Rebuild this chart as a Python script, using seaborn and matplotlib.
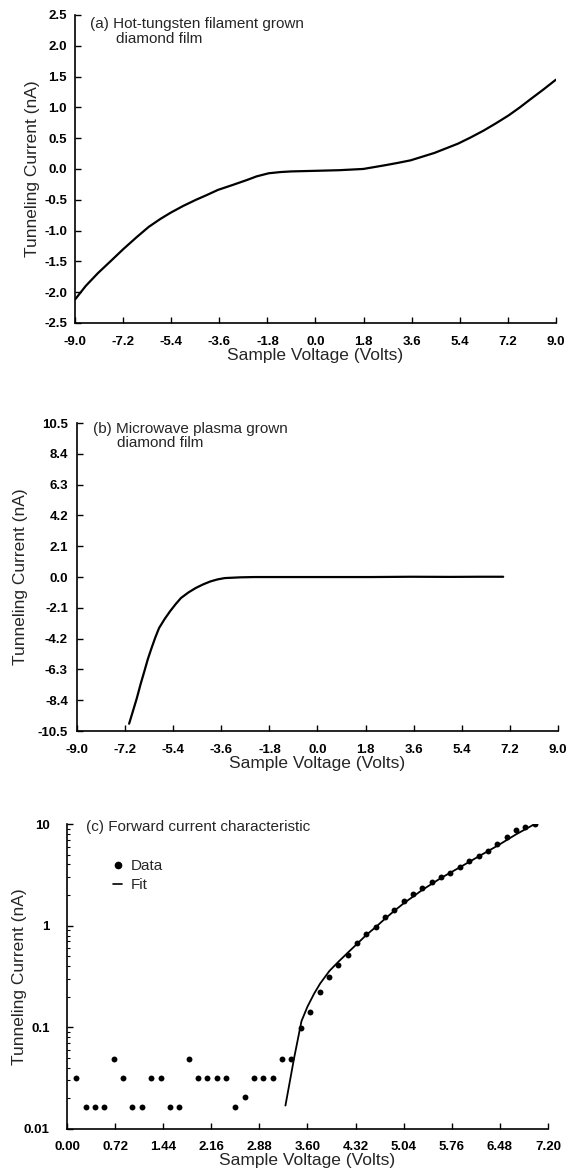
import numpy as np
import pandas as pd
import matplotlib
matplotlib.use("Agg")
import matplotlib.pyplot as plt
from matplotlib.lines import Line2D
import seaborn as sns

# ---- Panel (a) data: Hot-tungsten filament grown diamond film ----
a_voltage = [-9.0, -8.6, -8.14, -7.65, -7.19, -6.7, -6.24, -5.8, -5.42, -4.95, -4.47, -4.05, -3.65,
             -3.1, -2.57, -2.2, -1.75, -1.3, -0.9, 0.02, 0.9, 1.79, 2.6, 3.1, 3.56, 4.45,
             5.33, 5.8, 6.28, 6.75, 7.23, 7.65, 8.04, 8.5, 9.0]
a_current = [-2.12, -1.90, -1.69, -1.49, -1.30, -1.11, -0.94, -0.81, -0.71, -0.60, -0.50, -0.42, -0.34,
             -0.26, -0.18, -0.12, -0.07, -0.05, -0.04, -0.03, -0.02, 0.0, 0.06, 0.10, 0.14, 0.26,
             0.41, 0.51, 0.62, 0.74, 0.87, 1.0, 1.13, 1.28, 1.45]

# ---- Panel (b) data: Microwave plasma grown diamond film ----
b_voltage = [-7.05, -6.9, -6.76, -6.62, -6.48, -6.35, -6.21, -6.07, -5.93, -5.72, -5.52, -5.31, -5.11,
             -4.83, -4.56, -4.28, -4.01, -3.74, -3.47, -2.9, -2.37, -1.0, 0.5, 2.0, 3.5, 5.0, 6.0, 6.95]
b_current = [-10.0, -9.1, -8.25, -7.3, -6.43, -5.6, -4.84, -4.12, -3.48, -2.86, -2.34, -1.85, -1.43,
             -1.05, -0.75, -0.50, -0.30, -0.16, -0.07, -0.02, 0.0, 0.0, 0.0, 0.0, 0.02, 0.01, 0.02, 0.02]

# ---- Panel (c) data: Forward current characteristic ----
c_voltage = [0.14, 0.28, 0.42, 0.56, 0.70, 0.84, 0.98, 1.12, 1.26, 1.40,
             1.54, 1.68, 1.82, 1.96, 2.10, 2.24, 2.38, 2.52, 2.66, 2.80,
             2.94, 3.08, 3.22, 3.36, 3.50, 3.64, 3.78, 3.92, 4.06, 4.20,
             4.34, 4.48, 4.62, 4.76, 4.90, 5.04, 5.18, 5.32, 5.46, 5.60,
             5.74, 5.88, 6.02, 6.16, 6.30, 6.44, 6.58, 6.72, 6.86, 7.00]
c_current = [0.032, 0.0163, 0.0163, 0.0163, 0.049, 0.032, 0.0163, 0.0163, 0.032, 0.032,
             0.0163, 0.0163, 0.049, 0.032, 0.032, 0.032, 0.032, 0.0163, 0.0205, 0.032,
             0.032, 0.032, 0.049, 0.049, 0.098, 0.14, 0.224, 0.31, 0.41, 0.51,
             0.67, 0.83, 0.98, 1.23, 1.43, 1.73, 2.05, 2.34, 2.69, 2.99,
             3.29, 3.75, 4.29, 4.89, 5.47, 6.36, 7.50, 8.73, 9.42, 10.0]
fit_voltage = [3.27, 3.40, 3.51, 3.60, 3.70, 3.79, 3.93, 4.06, 4.20, 4.34, 4.48, 4.63, 4.76, 4.90,
               5.04, 5.32, 5.60, 5.88, 6.15, 6.44, 6.72, 6.99]
fit_current = [0.017, 0.05, 0.115, 0.16, 0.215, 0.27, 0.36, 0.44, 0.54, 0.66, 0.81, 0.98, 1.17, 1.40,
               1.66, 2.25, 2.95, 3.75, 4.75, 6.1, 7.9, 9.9]

a_yticks = [2.5, 2.0, 1.5, 1.0, 0.5, 0.0, -0.5, -1.0, -1.5, -2.0, -2.5]
b_yticks = [10.5, 8.4, 6.3, 4.2, 2.1, 0.0, -2.1, -4.2, -6.3, -8.4, -10.5]
ab_xticks = [-9.0, -7.2, -5.4, -3.6, -1.8, 0.0, 1.8, 3.6, 5.4, 7.2, 9.0]
c_xticks = [0.00, 0.72, 1.44, 2.16, 2.88, 3.60, 4.32, 5.04, 5.76, 6.48, 7.20]
c_yticks = [0.01, 0.1, 1, 10]
c_yticklabels = ["0.01", "0.1", "1", "10"]

sns.set_theme(style="ticks")
plt.rcParams['font.family'] = ['Liberation Sans', 'DejaVu Sans']
plt.rcParams['xtick.direction'] = 'in'
plt.rcParams['ytick.direction'] = 'in'

W, H = 570, 1168
fig = plt.figure(figsize=(W / 100, H / 100), dpi=100)
ax_a = fig.add_axes([0.1316, 0.7235, 0.8438, 0.2637])
ax_b = fig.add_axes([0.1351, 0.3741, 0.8438, 0.2637])
ax_c = fig.add_axes([0.1175, 0.0334, 0.8439, 0.2611])

TICK_FS = 9.5
LABEL_FS = 12.5
TITLE_FS = 11

def style_axes(ax, ypad, xpad=9.3):
    for s in ['top', 'right']:
        ax.spines[s].set_visible(False)
    for s in ['left', 'bottom']:
        ax.spines[s].set_linewidth(1.2)
        ax.spines[s].set_color('black')
    ax.tick_params(axis='both', which='major', length=4, width=1.0, colors='black', labelsize=TICK_FS)
    ax.tick_params(axis='y', which='major', pad=ypad)
    ax.tick_params(axis='x', which='major', pad=xpad)
    ax.tick_params(axis='both', which='minor', length=2.5, width=0.8, colors='black')
    for lab in ax.get_xticklabels() + ax.get_yticklabels():
        lab.set_fontweight('bold')

# Panel (a)
df_a = pd.DataFrame({'V': a_voltage, 'I': a_current})
sns.lineplot(data=df_a, x='V', y='I', ax=ax_a, color='black', linewidth=1.6)
ax_a.set_xlim(-9.0, 9.0)
ax_a.set_ylim(-2.5, 2.5)
ax_a.set_xticks(ab_xticks)
ax_a.set_xticklabels([f"{t:.1f}" for t in ab_xticks])
ax_a.set_yticks(a_yticks)
ax_a.set_yticklabels([f"{t:.1f}" for t in a_yticks])
ax_a.set_xlabel("Sample Voltage (Volts)", fontsize=LABEL_FS)
ax_a.set_ylabel("Tunneling Current (nA)", fontsize=LABEL_FS)
ax_a.xaxis.set_label_coords(0.5, -0.082)
ax_a.yaxis.set_label_coords(-0.072, 0.5)
ax_a.text(0.031, 0.971, "(a) Hot-tungsten filament grown", transform=ax_a.transAxes,
          fontsize=TITLE_FS, va='center', ha='left')
ax_a.text(0.085, 0.923, "diamond film", transform=ax_a.transAxes,
          fontsize=TITLE_FS, va='center', ha='left')
style_axes(ax_a, ypad=5.8)

# Panel (b)
df_b = pd.DataFrame({'V': b_voltage, 'I': b_current})
sns.lineplot(data=df_b, x='V', y='I', ax=ax_b, color='black', linewidth=1.6)
ax_b.set_xlim(-9.0, 9.0)
ax_b.set_ylim(-10.5, 10.5)
ax_b.set_xticks(ab_xticks)
ax_b.set_xticklabels([f"{t:.1f}" for t in ab_xticks])
ax_b.set_yticks(b_yticks)
ax_b.set_yticklabels([f"{t:.1f}" for t in b_yticks])
ax_b.set_xlabel("Sample Voltage (Volts)", fontsize=LABEL_FS)
ax_b.set_ylabel("Tunneling Current (nA)", fontsize=LABEL_FS)
ax_b.xaxis.set_label_coords(0.5, -0.082)
ax_b.yaxis.set_label_coords(-0.102, 0.5)
ax_b.text(0.033, 0.982, "(b) Microwave plasma grown", transform=ax_b.transAxes,
          fontsize=TITLE_FS, va='center', ha='left')
ax_b.text(0.083, 0.935, "diamond film", transform=ax_b.transAxes,
          fontsize=TITLE_FS, va='center', ha='left')
style_axes(ax_b, ypad=6.5)

# Panel (c)
df_c = pd.DataFrame({'V': c_voltage, 'I': c_current})
df_fit = pd.DataFrame({'V': fit_voltage, 'I': fit_current})
ax_c.set_yscale('log')
sns.lineplot(data=df_fit, x='V', y='I', ax=ax_c, color='black', linewidth=1.3)
sns.scatterplot(data=df_c, x='V', y='I', ax=ax_c, color='black', s=18, edgecolor='black', linewidth=0)
ax_c.set_xlim(0.0, 7.2)
ax_c.set_ylim(0.01, 10)
ax_c.set_xticks(c_xticks)
ax_c.set_xticklabels([f"{t:.2f}" for t in c_xticks])
ax_c.set_yticks(c_yticks)
ax_c.set_yticklabels(c_yticklabels)
ax_c.yaxis.set_minor_locator(matplotlib.ticker.LogLocator(base=10, subs=np.arange(2, 10)))
ax_c.yaxis.set_minor_formatter(matplotlib.ticker.NullFormatter())
ax_c.set_xlabel("Sample Voltage (Volts)", fontsize=LABEL_FS)
ax_c.set_ylabel("Tunneling Current (nA)", fontsize=LABEL_FS)
ax_c.xaxis.set_label_coords(0.5, -0.08)
ax_c.yaxis.set_label_coords(-0.084, 0.5)
ax_c.text(0.0395, 0.99, "(c) Forward current characteristic", transform=ax_c.transAxes,
          fontsize=TITLE_FS, va='center', ha='left')
handles = [Line2D([], [], marker='o', color='black', linestyle='none', markersize=4.5),
           Line2D([], [], color='black', linewidth=1.2)]
ax_c.legend(handles, ["Data", "Fit"], loc='upper left', bbox_to_anchor=(0.068, 0.93),
            frameon=False, handlelength=0.55, handletextpad=0.6, labelspacing=0.35,
            borderpad=0.4, prop={'size': TITLE_FS})
style_axes(ax_c, ypad=12.5, xpad=8.9)

fig.savefig("out.png", dpi=100)
